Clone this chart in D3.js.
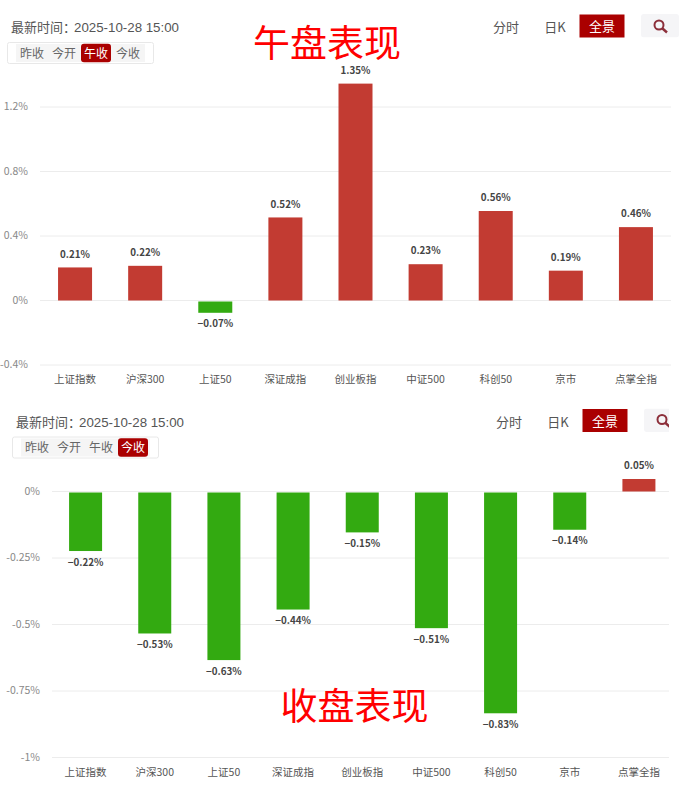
<!DOCTYPE html>
<html>
<head>
<meta charset="utf-8">
<script src="https://cdn.jsdelivr.net/npm/d3@7"></script>
<style>
html, body { margin: 0; padding: 0; background: #fff; }
svg { display: block; }
text { font-family: "Noto Sans CJK SC", "Noto Sans", sans-serif; }
.latin { font-family: "Liberation Sans", sans-serif; }
</style>
</head>
<body>
<svg id="chart" width="683" height="788"></svg>
<script>
var categories = ['上证指数', '沪深300', '上证50', '深证成指', '创业板指', '中证500', '科创50', '京市', '点掌全指'];
var noonValues = [0.21, 0.22, -0.07, 0.52, 1.35, 0.23, 0.56, 0.19, 0.46];
var closeValues = [-0.22, -0.53, -0.63, -0.44, -0.15, -0.51, -0.83, -0.14, 0.05];
var noonTicks = [1.2, 0.8, 0.4, 0, -0.4];
var noonTickLabels = ['1.2%', '0.8%', '0.4%', '0%', '-0.4%'];
var closeTicks = [0, -0.25, -0.5, -0.75, -1];
var closeTickLabels = ['0%', '-0.25%', '-0.5%', '-0.75%', '-1%'];
var tabs = ['昨收', '今开', '午收', '今收'];

var red = '#c23b32', green = '#33aa11', dark = '#aa0000';
var svg = d3.select('#chart');

function fmt(v) {
  return (v < 0 ? '\u2212' : '') + Math.abs(v).toFixed(2) + '%';
}

function header(g, opt) {
  var dx = opt.dx, dxr = opt.dxRight, dy = opt.dy;

  var stamp = g.append('text').attr('x', 11 + dx).attr('y', 32 + dy).attr('font-size', 13).attr('fill', '#555');
  stamp.append('tspan').text('最新时间：');
  stamp.append('tspan').attr('class', 'latin').attr('dx', -2).attr('font-size', 13.3).text('2025-10-28 15:00');

  g.append('rect').attr('x', 7.5 + dx).attr('y', 42.5 + dy).attr('width', 146).attr('height', 21)
    .attr('rx', 2).attr('fill', '#fff').attr('stroke', '#e8e8e8');
  g.append('rect').attr('x', 16 + dx).attr('y', 44 + dy).attr('width', 129).attr('height', 18).attr('fill', '#f5f5f5');

  tabs.forEach(function(t, i) {
    var cx = 32 + dx + i * 32;
    if (i == opt.activeTab) {
      g.append('rect').attr('x', cx - 15).attr('y', 43.7 + dy).attr('width', 30).attr('height', 18.5)
        .attr('rx', 3).attr('fill', dark);
    }
    g.append('text').attr('x', cx).attr('y', 57.5 + dy).attr('text-anchor', 'middle').attr('font-size', 12)
      .attr('fill', i == opt.activeTab ? '#fff' : '#666').text(t);
  });

  g.append('text').attr('x', 506 + dxr).attr('y', 32 + dy).attr('text-anchor', 'middle').attr('font-size', 13)
    .attr('fill', '#555').text('分时');
  g.append('text').attr('x', 555 + dxr).attr('y', 32 + dy).attr('text-anchor', 'middle').attr('font-size', 13)
    .attr('fill', '#555').text('日K');
  g.append('rect').attr('x', 579.5 + dxr).attr('y', 14.5 + dy).attr('width', 45).attr('height', 23).attr('fill', dark);
  g.append('text').attr('x', 602 + dxr).attr('y', 31 + dy).attr('text-anchor', 'middle').attr('font-size', 13)
    .attr('fill', '#fff').text('全景');

  // search button, the lower one is cut off in the screenshot
  var clipId = 'search' + opt.activeTab;
  g.append('clipPath').attr('id', clipId).append('rect')
    .attr('x', 641 + dxr).attr('y', 14 + dy).attr('width', opt.searchWidth).attr('height', 23.5);
  var s = g.append('g').attr('clip-path', 'url(#' + clipId + ')');
  s.append('rect').attr('x', 641 + dxr).attr('y', 14 + dy).attr('width', 38).attr('height', 23.5)
    .attr('rx', 3).attr('fill', '#f5f5f7');
  s.append('circle').attr('cx', 659 + dxr).attr('cy', 25 + dy).attr('r', 4.5)
    .attr('fill', 'none').attr('stroke', '#8c2f3a').attr('stroke-width', 2);
  s.append('line').attr('x1', 662.5 + dxr).attr('y1', 28.5 + dy).attr('x2', 667 + dxr).attr('y2', 32.5 + dy)
    .attr('stroke', '#8c2f3a').attr('stroke-width', 2.4);
}

function panel(opt) {
  var g = svg.append('g');

  var x = d3.scaleBand().domain(categories).range([opt.left, opt.right]);
  var y = d3.scaleLinear().domain(opt.domain).range(opt.range);

  g.selectAll('.grid').data(opt.ticks).enter().append('line')
    .attr('x1', opt.gridLeft).attr('x2', opt.gridRight)
    .attr('y1', function(d) { return y(d); })
    .attr('y2', function(d) { return y(d); })
    .attr('stroke', '#ececec').attr('stroke-width', 1);

  g.selectAll('.tick').data(opt.ticks).enter().append('text')
    .attr('x', opt.gridLeft - 12)
    .attr('y', function(d) { return y(d) + 3; })
    .attr('text-anchor', 'end').attr('font-size', 10.5).attr('fill', '#888')
    .text(function(d, i) { return opt.tickLabels[i]; });

  var bw = opt.barWidth;
  g.selectAll('.bar').data(opt.values).enter().append('rect')
    .attr('x', function(d, i) { return x(categories[i]) + x.bandwidth() / 2 - bw / 2; })
    .attr('y', function(d) { return d >= 0 ? y(d) + 0.8 : y(0) + 1; })
    .attr('width', bw)
    .attr('height', function(d) { return Math.abs(y(d) - y(0)) - (d >= 0 ? 0.8 : 0); })
    .attr('fill', function(d) { return d >= 0 ? red : green; });

  g.selectAll('.val').data(opt.values).enter().append('text')
    .attr('x', function(d, i) { return x(categories[i]) + x.bandwidth() / 2; })
    .attr('y', function(d) { return d >= 0 ? y(d) - 9 : y(d) + 15.5; })
    .attr('text-anchor', 'middle').attr('font-size', 9.8).attr('font-weight', 700).attr('fill', '#444')
    .text(fmt);

  g.selectAll('.cat').data(categories).enter().append('text')
    .attr('x', function(d) { return x(d) + x.bandwidth() / 2; })
    .attr('y', opt.catY)
    .attr('text-anchor', 'middle').attr('font-size', 10.5).attr('fill', '#555')
    .text(function(d) { return d; });

  g.append('text').attr('x', opt.titleX).attr('y', opt.titleY).attr('text-anchor', 'middle')
    .attr('font-size', 37).attr('fill', '#ff0000').text(opt.title);

  header(g, opt);
}

panel({
  left: 40, right: 671, gridLeft: 40, gridRight: 671, barWidth: 34,
  domain: [1.2, -0.4], range: [107, 365],
  ticks: noonTicks, tickLabels: noonTickLabels, values: noonValues,
  catY: 383, title: '午盘表现', titleX: 327, titleY: 57,
  dx: 0, dxRight: 0, dy: 0, activeTab: 2, searchWidth: 38
});

panel({
  left: 51, right: 673.5, gridLeft: 52, gridRight: 669, barWidth: 33,
  domain: [0, -1], range: [491.5, 757.5],
  ticks: closeTicks, tickLabels: closeTickLabels, values: closeValues,
  catY: 776, title: '收盘表现', titleX: 354.5, titleY: 720,
  dx: 5, dxRight: 3, dy: 394.5, activeTab: 3, searchWidth: 25
});
</script>
</body>
</html>
